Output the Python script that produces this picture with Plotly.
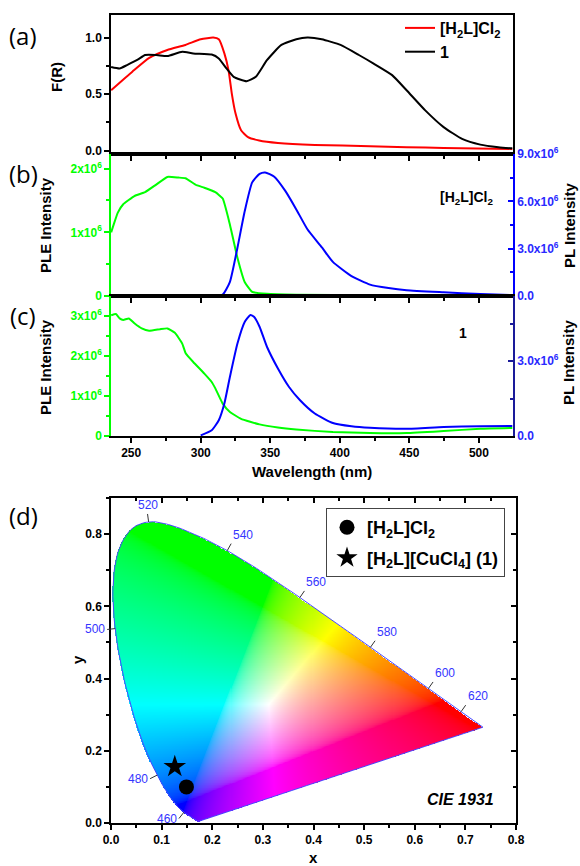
import numpy as np
import plotly.graph_objects as go

# ---------------- data ----------------
# (a) Kubelka-Munk F(R)
lam_a_red = [235.6, 251, 263, 276, 289, 300, 309, 313, 317, 320, 322.4, 325, 329, 334, 342, 355.5, 382, 421.7, 448, 474.6, 524]
F_red = [0.534, 0.70, 0.82, 0.89, 0.935, 0.985, 1.0, 0.985, 0.86, 0.71, 0.50, 0.33, 0.18, 0.12, 0.09, 0.068, 0.05, 0.039, 0.03, 0.024, 0.015]
lam_a_black = [235.6, 241.7, 247, 255, 260, 268, 276, 286.7, 294.6, 307.9, 313, 318.5, 323.7, 333, 339.6, 347.6, 358, 368.7, 376.7, 387, 400.5, 413.7, 424.3, 437.6, 448, 461.4, 474.6, 487.9, 501, 514, 524]
F_black = [0.74, 0.727, 0.757, 0.807, 0.846, 0.846, 0.837, 0.875, 0.86, 0.85, 0.816, 0.727, 0.653, 0.614, 0.653, 0.80, 0.935, 0.985, 1.0, 0.985, 0.935, 0.846, 0.77, 0.668, 0.534, 0.356, 0.208, 0.104, 0.053, 0.03, 0.02]

# (b) [H2L]Cl2 PLE / PL (x1e6)
lam_b_ple = [235.6, 237.7, 240.4, 244.3, 252.3, 260, 268, 276, 284, 289, 297, 302.6, 310.5, 315.8, 321, 326.4, 331.7, 337, 347.6, 368.7, 421.7, 524]
ple_b = [1.0, 1.14, 1.31, 1.44, 1.57, 1.63, 1.75, 1.87, 1.86, 1.85, 1.74, 1.70, 1.63, 1.53, 1.12, 0.60, 0.215, 0.065, 0.034, 0.02, 0.013, 0.01]
lam_b_pl = [306.5, 315.8, 321, 326.4, 331.7, 337, 342.3, 346.3, 352.9, 360.8, 368.7, 376.7, 387.3, 395, 408.4, 421.7, 435, 448, 474.6, 501, 524]
pl_b = [0, 0.09, 0.9, 3.06, 5.4, 7.2, 7.74, 7.83, 7.56, 6.66, 5.49, 4.23, 3.06, 2.16, 1.26, 0.72, 0.5, 0.36, 0.234, 0.126, 0.054]

# (c) compound 1 PLE / PL (x1e6)
lam_c_ple = [235.6, 239, 241.7, 244.3, 248.3, 252.3, 257.6, 262.9, 270.8, 276, 281.4, 286.7, 289.3, 294.6, 302.6, 307.9, 310.5, 315.8, 321, 329, 342.3, 355.5, 368.7, 395, 421.7, 448, 474.6, 501, 524]
ple_c = [3.02, 3.05, 2.94, 2.90, 2.94, 2.82, 2.69, 2.63, 2.67, 2.69, 2.58, 2.31, 2.06, 1.85, 1.56, 1.35, 1.19, 0.81, 0.60, 0.43, 0.29, 0.21, 0.16, 0.10, 0.075, 0.075, 0.125, 0.18, 0.20]
lam_c_pl = [300, 307.9, 313, 317, 321, 326.4, 331.7, 335.7, 338.3, 342.3, 347.6, 355.5, 363.5, 371.4, 382, 395, 408.4, 421.7, 448, 474.6, 501, 524]
pl_c = [0.027, 0.227, 0.63, 1.30, 2.37, 3.70, 4.57, 4.84, 4.77, 4.37, 3.57, 2.70, 1.96, 1.43, 0.90, 0.52, 0.39, 0.33, 0.29, 0.36, 0.39, 0.40]

# (d) CIE 1931 spectral locus (5 nm)
locus_nm = list(range(380, 705, 5))
locus_x = [0.1741, 0.1740, 0.1738, 0.1736, 0.1733, 0.1730, 0.1726, 0.1721, 0.1714, 0.1703, 0.1689, 0.1669, 0.1644, 0.1611,
           0.1566, 0.1510, 0.1440, 0.1355, 0.1241, 0.1096, 0.0913, 0.0687, 0.0454, 0.0235, 0.0082, 0.0039, 0.0139, 0.0389,
           0.0743, 0.1142, 0.1547, 0.1929, 0.2296, 0.2658, 0.3016, 0.3373, 0.3731, 0.4087, 0.4441, 0.4788, 0.5125, 0.5448,
           0.5752, 0.6029, 0.6270, 0.6482, 0.6658, 0.6801, 0.6915, 0.7006, 0.7079, 0.7140, 0.7190, 0.7230, 0.7260, 0.7283,
           0.7300, 0.7311, 0.7320, 0.7327, 0.7334, 0.7340, 0.7344, 0.7346, 0.7347]
locus_y = [0.0050, 0.0050, 0.0049, 0.0049, 0.0048, 0.0048, 0.0048, 0.0048, 0.0051, 0.0058, 0.0069, 0.0086, 0.0109, 0.0138,
           0.0177, 0.0227, 0.0297, 0.0399, 0.0578, 0.0868, 0.1327, 0.2007, 0.2950, 0.4127, 0.5384, 0.6548, 0.7502, 0.8120,
           0.8338, 0.8262, 0.8059, 0.7816, 0.7543, 0.7243, 0.6923, 0.6589, 0.6245, 0.5896, 0.5547, 0.5202, 0.4866, 0.4544,
           0.4242, 0.3965, 0.3725, 0.3514, 0.3340, 0.3197, 0.3083, 0.2993, 0.2920, 0.2859, 0.2809, 0.2770, 0.2740, 0.2717,
           0.2700, 0.2689, 0.2680, 0.2673, 0.2666, 0.2660, 0.2656, 0.2654, 0.2653]
label_nm = [460, 480, 500, 520, 540, 560, 580, 600, 620]
cie_names = ["[H<sub>2</sub>L]Cl<sub>2</sub>", "[H<sub>2</sub>L][CuCl<sub>4</sub>] (1)"]
cie_x = [0.149, 0.126]
cie_y = [0.100, 0.156]
cie_symbols = ["circle", "star"]

# ---------------- helpers ----------------
W, H = 580, 866
def PX(x): return x / W
def PY(y): return 1 - y / H

FONT = "Liberation Sans, Arial, sans-serif"
GREEN = "#00ff00"
BLUE = "#0000ff"
LBLUE = "#2a2aff"
SUP6 = "x10<sup>6</sup>"

# smooth (Catmull-Rom) densified locus for outline and mask
def catmull(xs, ys, sub=8):
    P = np.column_stack([xs, ys])
    P = np.vstack([P[0], P, P[-1]])
    out = []
    t = np.linspace(0, 1, sub, endpoint=False)[:, None]
    for i in range(1, len(P) - 2):
        p0, p1, p2, p3 = P[i - 1], P[i], P[i + 1], P[i + 2]
        seg = 0.5 * ((2 * p1) + (-p0 + p2) * t + (2 * p0 - 5 * p1 + 4 * p2 - p3) * t ** 2 + (-p0 + 3 * p1 - 3 * p2 + p3) * t ** 3)
        out.append(seg)
    out.append(P[-2][None, :])
    A_ = np.vstack(out)
    return A_[:, 0], A_[:, 1]

sx, sy = catmull(locus_x, locus_y)

def inside(px_, py_, polyx, polyy):
    res = np.zeros(px_.shape, bool)
    n = len(polyx)
    j = n - 1
    for i in range(n):
        xi, yi, xj, yj = polyx[i], polyy[i], polyx[j], polyy[j]
        if yi != yj:
            cond = ((yi > py_) != (yj > py_)) & (px_ < (xj - xi) * (py_ - yi) / (yj - yi) + xi)
            res ^= cond
        j = i
    return res

step = 0.002
gx = np.arange(0, 0.75 + step / 2, step)
gy = np.arange(0, 0.85 + step / 2, step)
XX, YY = np.meshgrid(gx, gy)
mask = inside(XX, YY, sx, sy)
Ys = np.maximum(YY, 1e-4)
Xc = XX / Ys
Zc = (1 - XX - YY) / Ys
R = 3.2406 * Xc - 1.5372 - 0.4986 * Zc
G = -0.9689 * Xc + 1.8758 + 0.0415 * Zc
B = 0.0557 * Xc - 0.2040 + 1.0570 * Zc
rgb = np.clip(np.stack([R, G, B], -1), 0, None)
mx = rgb.max(-1, keepdims=True)
rgb = rgb / np.where(mx > 0, mx, 1)
rgb = np.where(rgb <= 0.0031308, 12.92 * rgb, 1.055 * np.power(rgb, 1 / 2.4) - 0.055)
img = np.round(np.clip(rgb, 0, 1) * 255).astype(np.uint8)
img[~mask] = 255

fig = go.Figure()

# (a)
fig.add_trace(go.Scatter(x=lam_a_red, y=F_red, mode="lines", line=dict(color="#ff0000", width=2, shape="spline", smoothing=0.5),
                         name="[H<sub>2</sub>L]Cl<sub>2</sub>", xaxis="x", yaxis="y", legend="legend2", hoverinfo="skip"))
fig.add_trace(go.Scatter(x=lam_a_black, y=F_black, mode="lines", line=dict(color="#000000", width=2, shape="spline", smoothing=0.5),
                         name="1", xaxis="x", yaxis="y", legend="legend2", hoverinfo="skip"))
# (b)
fig.add_trace(go.Scatter(x=lam_b_ple, y=[v * 1e6 for v in ple_b], mode="lines", line=dict(color=GREEN, width=2, shape="spline", smoothing=0.4),
                         xaxis="x2", yaxis="y2", showlegend=False, hoverinfo="skip"))
fig.add_trace(go.Scatter(x=lam_b_pl, y=[v * 1e6 for v in pl_b], mode="lines", line=dict(color=BLUE, width=2, shape="spline", smoothing=0.5),
                         xaxis="x2", yaxis="y3", showlegend=False, hoverinfo="skip"))
# (c)
fig.add_trace(go.Scatter(x=lam_c_ple, y=[v * 1e6 for v in ple_c], mode="lines", line=dict(color=GREEN, width=2, shape="spline", smoothing=0.4),
                         xaxis="x3", yaxis="y4", showlegend=False, hoverinfo="skip"))
fig.add_trace(go.Scatter(x=lam_c_pl, y=[v * 1e6 for v in pl_c], mode="lines", line=dict(color=BLUE, width=2, shape="spline", smoothing=0.5),
                         xaxis="x3", yaxis="y5", showlegend=False, hoverinfo="skip"))
# (d)
fig.add_trace(go.Image(z=img.tolist(), x0=0, dx=step, y0=0, dy=step, colormodel="rgb",
                       xaxis="x4", yaxis="y6", hoverinfo="skip"))
fig.add_trace(go.Scatter(x=list(sx) + [sx[0]], y=list(sy) + [sy[0]], mode="lines",
                         line=dict(color="#4a4aff", width=1), xaxis="x4", yaxis="y6", showlegend=False, hoverinfo="skip"))
for i in range(len(cie_x)):
    fig.add_trace(go.Scatter(x=[cie_x[i]], y=[cie_y[i]], mode="markers", name=cie_names[i],
                             marker=dict(symbol=cie_symbols[i], size=15 if i == 0 else 17, color="black"),
                             xaxis="x4", yaxis="y6", legend="legend", legendgroup=str(i), hoverinfo="skip"))
# dummy trace so overlay axes (top/right ticks of d) render
fig.add_trace(go.Scatter(x=[None], y=[None], xaxis="x5", yaxis="y7", showlegend=False, hoverinfo="skip"))

# ---------------- axes ----------------
xdom = [PX(111), PX(513)]
xr = [235.5, 524.5]
TS = 12
tickf = dict(family=FONT, size=TS, color="black", weight="bold")
common_x = dict(range=xr, domain=xdom, showline=True, linecolor="black", linewidth=1.5, mirror=True, automargin=False,
                ticks="outside", ticklen=5, tickwidth=1.5, tickcolor="black", tickvals=[250, 300, 350, 400, 450, 500],
                minor=dict(ticks="outside", ticklen=3, tickwidth=1.5, tickcolor="black", dtick=25, tick0=0),
                showgrid=False, zeroline=False, tickfont=tickf)

def ylax(dom, rng, color, tvals, ttext, mdt, tcolor, anchor):
    return dict(domain=dom, range=rng, anchor=anchor, showline=True, linecolor=color, linewidth=1.5, mirror=False,
                automargin=False, ticks="outside", ticklen=5, tickwidth=1.5, tickcolor=color, tickvals=tvals, ticktext=ttext,
                minor=dict(ticks="outside", ticklen=3, tickwidth=1.5, tickcolor=color, dtick=mdt, tick0=0),
                showgrid=False, zeroline=False, tickfont=dict(family=FONT, size=TS, color=tcolor, weight="bold"))

def yrax(overl, rng, color, tvals, ttext, mdt, tcolor, anchor):
    return dict(overlaying=overl, side="right", range=rng, anchor=anchor, showline=True, linecolor=color, linewidth=1.5,
                automargin=False, ticks="inside", ticklen=5, tickwidth=1.5, tickcolor=color, tickvals=tvals, ticktext=ttext,
                minor=dict(ticks="inside", ticklen=3, tickwidth=1.5, tickcolor=color, dtick=mdt, tick0=0),
                showgrid=False, zeroline=False, tickfont=dict(family=FONT, size=TS, color=tcolor, weight="bold"))

ya_dom = [PY(154), PY(15)]
yb_dom = [PY(296), PY(154)]
yc_dom = [PY(436), PY(296)]

layout = dict(
    template="none",
    width=W, height=H, autosize=False, margin=dict(l=0, r=0, t=0, b=0, pad=0), paper_bgcolor="white", plot_bgcolor="white",
    font=dict(family=FONT, color="black"),
    xaxis=dict(common_x, anchor="y", showticklabels=False),
    xaxis2=dict(common_x, anchor="y2", showticklabels=False),
    xaxis3=dict(common_x, anchor="y4", showticklabels=True),
    yaxis=dict(domain=ya_dom, range=[-0.03, 1.2], anchor="x", showline=True, linecolor="black", linewidth=1.5, mirror=True,
               automargin=False, ticks="outside", ticklen=5, tickwidth=1.5, tickcolor="black", tickvals=[0, 0.5, 1.0],
               ticktext=["0.0", "0.5", "1.0"],
               minor=dict(ticks="outside", ticklen=3, tickwidth=1.5, tickcolor="black", dtick=0.25, tick0=0),
               showgrid=False, zeroline=False, tickfont=tickf),
    yaxis2=ylax(yb_dom, [0, 2.23e6], GREEN, [0, 1e6, 2e6], ["0", "1" + SUP6, "2" + SUP6], 0.5e6, GREEN, "x2"),
    yaxis3=yrax("y2", [0, 9e6], BLUE, [0, 3e6, 6e6, 9e6], ["0.0", "3.0" + SUP6, "6.0" + SUP6, "9.0" + SUP6], 1.5e6, LBLUE, "x2"),
    yaxis4=ylax(yc_dom, [0, 3.5e6], GREEN, [0, 1e6, 2e6, 3e6], ["0", "1" + SUP6, "2" + SUP6, "3" + SUP6], 0.5e6, GREEN, "x3"),
    yaxis5=yrax("y4", [0, 5.6e6], "#1a1a9a", [0, 3e6], ["0.0", "3.0" + SUP6], 1.5e6, LBLUE, "x3"),
    xaxis4=dict(domain=[PX(111), PX(516)], range=[0, 0.8], anchor="y6", showline=True, linecolor="black", linewidth=1.5,
                automargin=False, ticks="outside", ticklen=5, tickwidth=1.5, tickcolor="black", dtick=0.1, tick0=0, tickformat=".1f",
                minor=dict(ticks="outside", ticklen=3, tickwidth=1.5, tickcolor="black", dtick=0.05, tick0=0),
                showgrid=False, zeroline=False, tickfont=tickf),
    yaxis6=dict(domain=[PY(823), PY(498)], range=[0, 0.9], autorange=False, anchor="x4", scaleanchor=False,
                showline=True, linecolor="black", linewidth=1.5, automargin=False,
                ticks="outside", ticklen=5, tickwidth=1.5, tickcolor="black", dtick=0.2, tick0=0, tickformat=".1f",
                minor=dict(ticks="outside", ticklen=3, tickwidth=1.5, tickcolor="black", dtick=0.1, tick0=0),
                showgrid=False, zeroline=False, tickfont=tickf),
    xaxis5=dict(overlaying="x4", side="top", anchor="y6", range=[0, 0.8], showline=True, linecolor="black", linewidth=1.5,
                automargin=False, ticks="inside", ticklen=5, tickwidth=1.5, tickcolor="black", dtick=0.1, tick0=0, showticklabels=False,
                minor=dict(ticks="inside", ticklen=3, tickwidth=1.5, tickcolor="black", dtick=0.05, tick0=0),
                showgrid=False, zeroline=False),
    yaxis7=dict(overlaying="y6", side="right", anchor="x4", range=[0, 0.9], showline=True, linecolor="black", linewidth=1.5,
                automargin=False, ticks="inside", ticklen=5, tickwidth=1.5, tickcolor="black", dtick=0.2, tick0=0, showticklabels=False,
                minor=dict(ticks="inside", ticklen=3, tickwidth=1.5, tickcolor="black", dtick=0.1, tick0=0),
                showgrid=False, zeroline=False),
    legend=dict(x=PX(505), y=PY(508), xanchor="right", yanchor="top", bordercolor="#444", borderwidth=1, bgcolor="white",
                font=dict(family=FONT, size=18, color="black", weight="bold"), tracegroupgap=4, traceorder="grouped"),
    legend2=dict(x=PX(400), y=PY(11), xanchor="left", yanchor="top", bgcolor="rgba(0,0,0,0)",
                 font=dict(family=FONT, size=16, color="black", weight="bold"), tracegroupgap=0),
)
fig.update_layout(**layout)

ann = []
def A(text, x, y, size=15, rot=0, color="black", weight="bold", style="normal", family=FONT, xanchor="center"):
    ann.append(dict(text=text, x=PX(x), y=PY(y), xref="paper", yref="paper", showarrow=False, textangle=rot,
                    xanchor=xanchor, yanchor="middle",
                    font=dict(family=family, size=size, color=color, weight=weight, style=style)))

A("(a)", 23, 35, size=24, weight="normal", family="Open Sans, sans-serif")
A("(b)", 23, 174, size=24, weight="normal", family="Open Sans, sans-serif")
A("(c)", 23, 316, size=24, weight="normal", family="Open Sans, sans-serif")
A("(d)", 23, 515, size=24, weight="normal", family="Open Sans, sans-serif")
A("F(R)", 56, 77, rot=-90)
A("PLE Intensity", 45, 225, rot=-90)
A("PLE Intensity", 45, 367, rot=-90)
A("PL Intensity", 569, 226, rot=-90)
A("PL Intensity", 569, 363, rot=-90)
A("Wavelength (nm)", 312, 471)
A("x", 313, 857)
A("y", 77, 660, rot=-90)
A("[H<sub>2</sub>L]Cl<sub>2</sub>", 466, 198, size=14)
A("1", 463, 333, size=14)
A("CIE 1931", 460, 799, size=16, style="italic")

# wavelength labels on the spectral locus: short tick along the outward normal, text beyond it
TL = 8
for nm in label_nm:
    i = locus_nm.index(nm)
    tx = (locus_x[i + 1] - locus_x[i - 1]) * 506
    ty = (locus_y[i + 1] - locus_y[i - 1]) * 361
    n = (tx * tx + ty * ty) ** 0.5
    nx, ny = -ty / n, tx / n
    xa = "right" if nx < -0.3 else ("left" if nx > 0.3 else "center")
    ya = "bottom" if ny > 0.3 else ("top" if ny < -0.9 else "middle")
    ann.append(dict(text=str(nm), x=locus_x[i], y=locus_y[i], xref="x4", yref="y6", showarrow=True, arrowhead=0,
                    arrowwidth=1, arrowcolor="#333", ax=nx * TL, ay=-ny * TL, standoff=0, xanchor=xa, yanchor=ya,
                    font=dict(family=FONT, size=12, color="#3535ff")))

fig.update_layout(annotations=ann)
fig.write_html("out.html", config={"displayModeBar": False},
               post_script="document.body.style.margin='0px';")
